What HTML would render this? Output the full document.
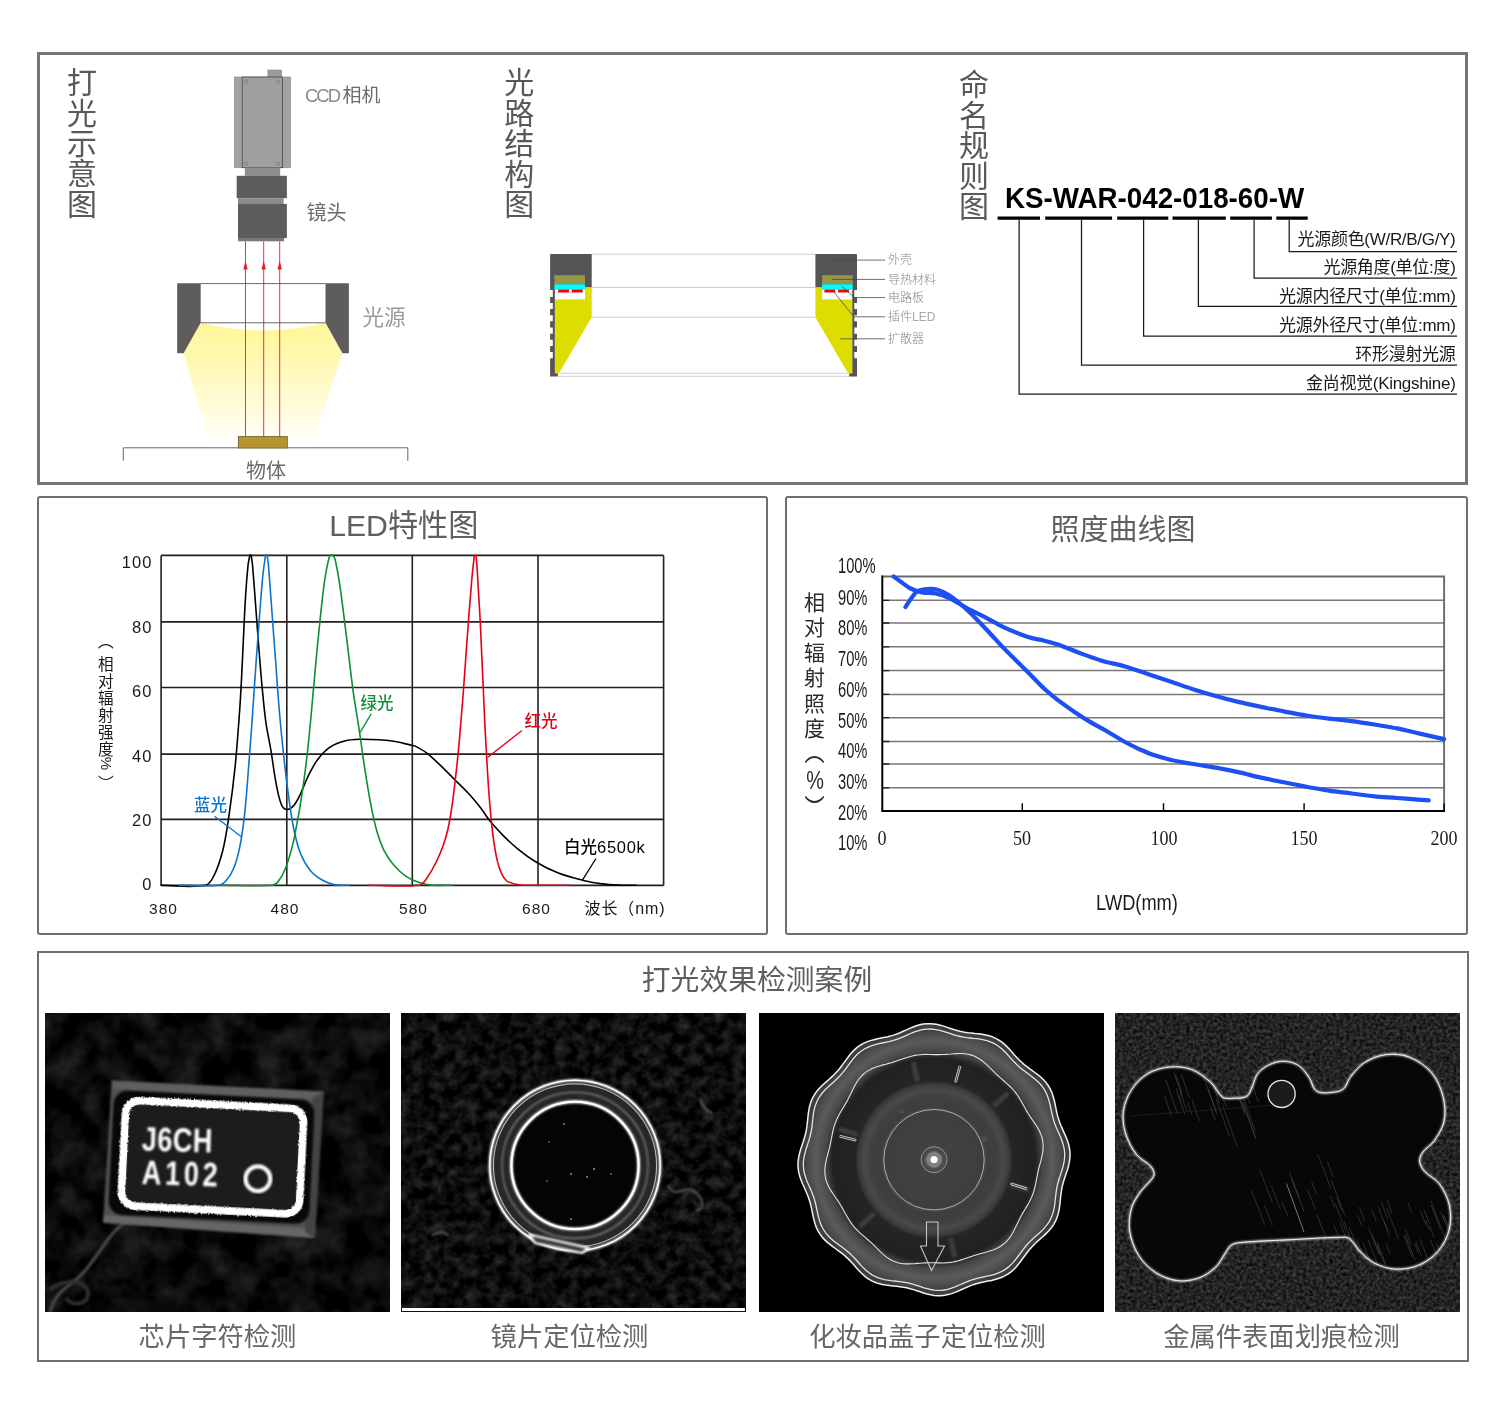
<!DOCTYPE html>
<html lang="zh-CN">
<head>
<meta charset="utf-8">
<title>KS-WAR 环形漫射光源</title>
<style>
*{margin:0;padding:0;box-sizing:border-box}
html,body{width:1500px;height:1420px;background:#fff;overflow:hidden}
body{position:relative;will-change:transform;font-family:"Liberation Sans","Noto Sans CJK SC",sans-serif;color:#595757}
.abs{position:absolute}
.box{position:absolute;border:2px solid #6f6f6f;border-radius:3px;background:#fff}
#boxTop{left:37px;top:52px;width:1431px;height:433px;border:3px solid #757575;border-radius:0}
#boxLed{left:37px;top:496px;width:731px;height:439px}
#boxLux{left:785px;top:496px;width:683px;height:439px}
#boxCase{left:37px;top:951px;width:1432px;height:411px;border-radius:0}
.vtitle{position:absolute;width:32px;font-size:30px;line-height:30.4px;text-align:center;color:#5b5857;white-space:pre-line}
.lbl{position:absolute;white-space:nowrap;line-height:1}
.ctitle{position:absolute;white-space:nowrap;line-height:1;color:#625e5d}
.cap{position:absolute;top:1322.3px;font-size:26.3px;line-height:30px;white-space:nowrap;color:#6a6766;text-align:center}
.nr{right:44.5px;font-size:17px;color:#1a1a1a;letter-spacing:-0.3px}
.ya{right:1348.6px;font-size:16.5px;color:#1a1a1a;letter-spacing:1.1px;margin-right:-1.1px}
.xa{top:901px;width:60px;text-align:center;font-size:15.5px;color:#1a1a1a;letter-spacing:1px}
.cl{font-size:16.5px;font-weight:500}
.pc{left:838px;font-size:22px;color:#1a1a1a;transform:scaleX(0.668);transform-origin:0 50%}
.xs{top:826.5px;width:60px;text-align:center;font-family:"Liberation Serif","Noto Serif CJK SC",serif;font-size:22px;color:#1a1a1a;transform:scaleX(0.82)}
svg{position:absolute;left:0;top:0;overflow:visible}
svg text{font-family:"Liberation Sans","Noto Sans CJK SC",sans-serif}
</style>
</head>
<body>
<div class="box" id="boxTop"></div>
<div class="box" id="boxLed"></div>
<div class="box" id="boxLux"></div>
<div class="box" id="boxCase"></div>

<!-- ===== vertical section titles ===== -->
<div class="vtitle" style="left:66px;top:68.1px">打
光
示
意
图</div>
<div class="vtitle" style="left:503.3px;top:68.3px">光
路
结
构
图</div>
<div class="vtitle" style="left:958px;top:70.3px;line-height:30.4px">命
名
规
则
图</div>

<!-- ===== chart / section titles ===== -->
<div class="ctitle" style="left:329.2px;top:511.3px;font-size:30.2px">LED特性图</div>
<div class="ctitle" style="left:1050.4px;top:515.6px;font-size:29px">照度曲线图</div>
<div class="ctitle" style="left:641.8px;top:966.2px;font-size:28.8px">打光效果检测案例</div>

<!-- ===== captions ===== -->
<div class="cap" style="left:45px;width:345px">芯片字符检测</div>
<div class="cap" style="left:397px;width:345px">镜片定位检测</div>
<div class="cap" style="left:755px;width:345px">化妆品盖子定位检测</div>
<div class="cap" style="left:1109px;width:345px">金属件表面划痕检测</div>

<!-- ===== 打光示意图 diagram ===== -->
<svg width="1500" height="1420" viewBox="0 0 1500 1420">
  <defs>
    <linearGradient id="gLight" x1="0" y1="322" x2="0" y2="447" gradientUnits="userSpaceOnUse">
      <stop offset="0" stop-color="#fff697"/>
      <stop offset="0.25" stop-color="#fff8ad"/>
      <stop offset="0.6" stop-color="#fffbd2"/>
      <stop offset="1" stop-color="#ffffff"/>
    </linearGradient>
  </defs>
  <!-- light cone -->
  <path d="M200.7 322.8 Q263 338 325.5 322.8 L342.5 353.3 L311 447.5 L211 447.5 L183.6 353.3 Z" fill="url(#gLight)"/>
  <!-- camera -->
  <rect x="267.9" y="70" width="13.8" height="8" fill="#9c9c9c" stroke="#8a8888" stroke-width="0.6"/>
  <rect x="234.5" y="77" width="56" height="90.7" fill="#a3a3a3" stroke="#8e8c8c" stroke-width="0.7"/>
  <rect x="242.2" y="77" width="40.4" height="90.7" fill="#9f9f9f" stroke="#4e4646" stroke-width="0.8"/>
  <g fill="#c9c9c9" stroke="#4e4646" stroke-width="0.6">
    <circle cx="246.1" cy="81.4" r="1.3"/><circle cx="278.2" cy="81.4" r="1.3"/>
    <circle cx="246.1" cy="163.7" r="1.3"/><circle cx="278.2" cy="163.7" r="1.3"/>
  </g>
  <rect x="244.8" y="167.7" width="35.4" height="8.2" fill="#8f8f8f"/>
  <!-- lens -->
  <rect x="236.7" y="175.8" width="50.2" height="22.4" fill="#5e5c5d"/>
  <rect x="238" y="198.2" width="45.6" height="5.8" fill="#8b8b8b"/>
  <rect x="238" y="203.9" width="48.9" height="34.2" fill="#5e5c5d"/>
  <rect x="238" y="238" width="46" height="3.3" fill="#7b7979"/>
  <!-- light source housing -->
  <path d="M177.2 283.3 H200.7 V322.8 L183.6 353.3 H177.2 Z" fill="#5e5c5d"/>
  <path d="M325.5 283.3 H348.9 V353.3 H342.5 L325.5 322.8 Z" fill="#5e5c5d"/>
  <path d="M200.7 283.6 H325.5 M200.7 322.8 H325.5" stroke="#5a5555" stroke-width="0.9" fill="none"/>
  <!-- rays -->
  <g stroke="#ee1c25" stroke-width="0.9" fill="none">
    <path d="M245.5 241.3 V436.5 M263.7 241.3 V436.5 M279.7 241.3 V436.5"/>
  </g>
  <g fill="#ee1c25">
    <path d="M245.5 260.5 l2.2 9 h-4.4z M263.7 260.5 l2.2 9 h-4.4z M279.7 260.5 l2.2 9 h-4.4z"/>
  </g>
  <!-- object -->
  <rect x="238.3" y="436.5" width="49" height="11.6" fill="#b8942f" stroke="#5a4a2a" stroke-width="0.7"/>
  <path d="M123.3 460.8 V447.8 H238 M287.5 447.8 H407.8 V460.8" stroke="#5a5555" stroke-width="0.9" fill="none"/>
</svg>
<div class="lbl" style="left:305px;top:86px;font-size:19px;color:#6c6968"><span style="font-family:'Liberation Sans','Noto Sans CJK SC',sans-serif;color:#8d8a8a;letter-spacing:-2px;margin-right:3.5px;font-size:18.5px">CCD</span>相机</div>
<div class="lbl" style="left:306.5px;top:202.5px;font-size:20px;color:#6c6968">镜头</div>
<div class="lbl" style="left:362.5px;top:308px;font-size:21.5px;color:#9b9999">光源</div>
<div class="lbl" style="left:246px;top:461px;font-size:20px;color:#6c6968">物体</div>

<!-- ===== 光路结构图 diagram ===== -->
<svg width="1500" height="1420" viewBox="0 0 1500 1420">
  <defs>
    <g id="ringHalf">
      <!-- housing -->
      <path d="M551.1 253.9 H591.7 V287.5 H585 V299.7 H554.9 V373.3 H557.9 V376.5 H550.1 V358.2 H552.8 V352 H550.1 V346.1 H552.8 V339.7 H550.1 V333.7 H552.8 V327.5 H550.1 V321.3 H552.8 V315.2 H550.1 V309.1 H552.8 V302.9 H550.1 V297.1 H552.8 V290.1 H550.1 V254.9 Q550.1 253.9 551.1 253.9 Z" fill="#555555"/>
      <!-- diffuser -->
      <path d="M554.9 299.7 H585 V287.5 H591.7 V317.3 L559 373.3 H554.9 Z" fill="#dddd00"/>
      <rect x="554.4" y="275.2" width="30.6" height="9.2" fill="#96964b"/>
      <rect x="554.4" y="284.3" width="30.6" height="5.4" fill="#00ffff"/>
      <rect x="554.9" y="289.6" width="30.1" height="10.1" fill="#ffffff"/>
      <rect x="558.1" y="289.6" width="10.9" height="2.9" fill="#ff0000"/>
      <rect x="571.8" y="289.6" width="10.9" height="2.9" fill="#ff0000"/>
    </g>
  </defs>
  <path d="M591.7 254.2 H815.3 M591.7 287.5 H815.3 M591.7 317.3 H815.3 M559 373.3 H848.5 M557.9 376.3 H849.6" stroke="#c9c9c9" stroke-width="0.9" fill="none"/>
  <use href="#ringHalf"/>
  <use href="#ringHalf" transform="translate(1407.1 0) scale(-1 1)"/>
  <g stroke="#4f4848" stroke-width="0.8" fill="none">
    <path d="M832.2 260.1 H885"/>
    <path d="M832.2 279.4 H885"/>
    <path d="M841.7 286.2 L854.4 297.6 H885"/>
    <path d="M832.7 290.5 L853.9 316.8 H885"/>
    <path d="M840.1 338.8 H885"/>
  </g>
</svg>
<div class="lbl" style="left:888px;top:254px;font-size:12px;color:#8a8787;font-weight:300">外壳</div>
<div class="lbl" style="left:888px;top:273.5px;font-size:12px;color:#8a8787;font-weight:300">导热材料</div>
<div class="lbl" style="left:888px;top:291.5px;font-size:12px;color:#8a8787;font-weight:300">电路板</div>
<div class="lbl" style="left:888px;top:310.5px;font-size:12px;color:#8a8787;font-weight:300">插件<span style="color:#aaa7a7">LED</span></div>
<div class="lbl" style="left:888px;top:332.5px;font-size:12px;color:#8a8787;font-weight:300">扩散器</div>

<!-- ===== 命名规则图 ===== -->
<svg width="1500" height="1420" viewBox="0 0 1500 1420">
  <g stroke="#000" stroke-width="3.2" fill="none">
    <path d="M997.6 218.2 H1040 M1045.2 218.2 H1112.1 M1117.2 218.2 H1168.3 M1172.5 218.2 H1225.8 M1230.2 218.2 H1271.9 M1276.3 218.2 H1307.7"/>
  </g>
  <g stroke="#1a1a1a" stroke-width="1.25" fill="none">
    <path d="M1289.2 219.5 V251.5 H1457"/>
    <path d="M1254.1 219.5 V278 H1457"/>
    <path d="M1198.4 219.5 V306.4 H1457"/>
    <path d="M1143.6 219.5 V336.1 H1457"/>
    <path d="M1081.5 219.5 V365.1 H1457"/>
    <path d="M1019.1 219.5 V394.1 H1457"/>
  </g>
</svg>
<div class="lbl" id="model" style="left:1005px;top:182.5px;font-size:30px;font-weight:700;color:#000;transform:scaleX(0.925);transform-origin:0 0">KS-WAR-042-018-60-W</div>
<div class="lbl nr" style="top:230.5px">光源颜色(W/R/B/G/Y)</div>
<div class="lbl nr" style="top:259px">光源角度(单位:度)</div>
<div class="lbl nr" style="top:288px">光源内径尺寸(单位:mm)</div>
<div class="lbl nr" style="top:317px">光源外径尺寸(单位:mm)</div>
<div class="lbl nr" style="top:346px">环形漫射光源</div>
<div class="lbl nr" style="top:374.5px">金尚视觉(Kingshine)</div>

<!-- ===== LED特性图 chart ===== -->
<svg width="1500" height="1420" viewBox="0 0 1500 1420">
<path d="M161.1 555.4 V885.4 M286.8 555.4 V885.4 M412.3 555.4 V885.4 M538.0 555.4 V885.4 M663.6 555.4 V885.4 M161.1 555.4 H663.6 M161.1 621.9 H663.6 M161.1 687.5 H663.6 M161.1 754.1 H663.6 M161.1 819.4 H663.6 M161.1 885.4 H663.6" stroke="#231f20" stroke-width="1.6" fill="none"/>
<path d="M160.4 885.3 C175.4 885.3 190.7 888.0 205.5 885.3 C209.8 884.5 212.2 879.3 214.1 875.4 C218.0 867.6 220.6 859.2 222.7 850.8 C225.6 839.4 227.2 827.8 228.9 816.2 C231.3 799.8 233.4 783.4 235.1 766.9 C237.1 746.4 238.6 725.8 240.0 705.3 C241.4 684.7 242.2 664.2 243.2 643.6 C244.0 627.2 244.6 610.7 245.7 594.3 C246.3 584.4 247.1 574.6 248.1 564.7 C248.4 562.1 249.0 559.4 249.6 556.8 C249.8 556.1 249.9 554.5 250.6 554.9 C251.5 555.3 251.4 556.8 251.6 557.8 C252.1 560.5 252.3 563.2 252.6 566.0 C253.4 575.4 254.1 584.9 254.8 594.3 C256.0 610.8 257.2 627.2 258.5 643.6 C259.7 658.4 260.8 673.2 262.2 688.0 C263.3 699.5 264.3 711.1 265.9 722.5 C267.2 731.6 269.3 740.6 270.8 749.7 C272.6 760.3 273.8 771.1 275.8 781.7 C277.1 788.8 278.3 795.9 280.7 802.7 C281.6 805.3 283.0 808.5 285.6 809.3 C288.2 810.1 291.2 808.3 293.0 806.4 C296.3 802.9 298.3 798.3 300.4 794.0 C303.2 788.4 305.0 782.4 307.8 776.8 C310.8 770.9 313.7 764.8 317.7 759.5 C321.2 754.9 325.2 750.5 330.0 747.2 C334.4 744.2 339.6 742.4 344.8 741.0 C349.6 739.7 354.6 739.5 359.6 739.3 C366.2 739.1 372.7 739.4 379.3 739.8 C385.1 740.2 390.9 740.8 396.6 741.8 C401.6 742.6 406.4 744.1 411.4 745.2 C412.5 745.5 413.8 745.4 414.8 745.9 C419.1 748.1 423.3 750.4 427.1 753.3 C431.5 756.6 435.4 760.6 439.4 764.4 C444.5 769.2 449.3 774.2 454.2 779.2 C459.2 784.1 464.3 788.8 469.0 794.0 C473.4 798.7 477.4 803.7 481.3 808.7 C484.4 812.7 486.8 817.2 490.0 821.1 C494.2 826.2 498.8 831.1 503.5 835.9 C508.3 840.6 513.1 845.2 518.3 849.4 C523.8 853.9 529.5 858.1 535.6 861.7 C542.7 866.0 550.1 869.8 557.8 872.8 C565.7 876.0 574.1 878.1 582.4 880.2 C588.9 881.8 595.5 883.1 602.1 883.9 C608.7 884.7 615.3 884.9 621.8 885.2 C626.8 885.3 631.7 885.2 636.6 885.2" stroke="#000" stroke-width="1.6" fill="none"/>
<path d="M178.4 885.3 C191.9 885.3 205.5 886.7 219.0 885.3 C222.0 885.0 224.5 882.6 226.4 880.3 C229.6 876.7 232.1 872.5 233.8 868.0 C236.6 860.9 238.5 853.4 240.0 845.8 C242.2 834.4 243.7 822.9 244.9 811.3 C246.5 796.5 247.5 781.7 248.6 766.9 C249.9 750.5 251.2 734.0 252.3 717.6 C253.6 699.5 254.7 681.4 256.0 663.4 C257.2 646.9 258.4 630.5 259.7 614.0 C260.7 600.9 261.6 587.7 262.9 574.6 C263.5 569.2 264.2 563.9 265.1 558.6 C265.4 557.3 265.1 554.9 266.4 554.9 C267.7 554.9 267.4 557.3 267.6 558.6 C268.2 562.2 268.6 565.9 268.8 569.7 C270.0 584.4 271.0 599.2 272.1 614.0 C273.3 630.5 274.5 646.9 275.8 663.4 C277.0 679.8 278.0 696.2 279.5 712.7 C280.9 729.1 282.6 745.6 284.4 762.0 C285.8 775.2 287.4 788.3 289.3 801.4 C290.7 811.3 292.1 821.2 294.2 831.0 C295.9 838.5 297.5 846.1 300.4 853.2 C302.9 859.4 306.1 865.3 310.3 870.5 C313.6 874.5 318.0 877.7 322.6 880.3 C326.4 882.5 330.6 884.0 334.9 884.8 C339.8 885.7 344.8 885.1 349.7 885.3" stroke="#0b74cf" stroke-width="1.6" fill="none"/>
<path d="M219.0 885.3 C236.7 885.3 254.4 886.4 272.1 885.3 C274.4 885.1 276.7 883.5 278.2 881.6 C281.4 877.5 283.8 872.8 285.6 868.0 C288.7 860.0 291.0 851.7 293.0 843.4 C295.5 832.8 297.3 822.0 299.2 811.3 C301.0 800.6 302.7 790.0 304.1 779.2 C306.0 765.3 307.6 751.3 309.0 737.3 C310.9 719.3 312.3 701.2 314.0 683.1 C315.6 665.8 317.1 648.5 318.9 631.3 C320.4 616.5 321.9 601.7 323.8 586.9 C324.9 578.7 326.0 570.3 328.0 562.3 C328.7 559.6 329.3 554.1 332.0 554.9 C335.4 555.9 335.4 561.2 336.2 564.7 C338.4 574.5 339.7 584.4 341.1 594.3 C343.4 610.7 345.2 627.2 347.3 643.6 C349.3 660.1 351.1 676.5 353.4 692.9 C355.3 706.1 357.6 719.2 359.6 732.4 C361.3 743.9 362.7 755.4 364.5 766.9 C366.4 779.3 368.3 791.6 370.7 803.9 C372.4 813.0 374.3 822.1 376.8 831.0 C378.8 837.8 381.1 844.5 384.2 850.8 C386.9 856.1 390.2 861.0 394.1 865.5 C397.7 869.7 401.8 873.6 406.4 876.6 C410.6 879.4 415.3 881.2 420.0 882.8 C423.9 884.1 428.0 884.9 432.0 885.2 C439.0 885.6 446.0 885.2 453.0 885.2" stroke="#0a9036" stroke-width="1.6" fill="none"/>
<path d="M367.5 885.2 C384.9 885.2 402.4 887.3 419.7 885.2 C423.2 884.7 425.1 880.6 427.1 877.8 C430.5 873.1 433.2 868.1 435.7 863.0 C438.5 857.4 441.0 851.6 443.1 845.7 C445.1 840.1 446.8 834.3 448.1 828.5 C449.8 820.3 451.1 812.1 452.3 803.8 C453.8 793.2 455.0 782.5 456.2 771.8 C457.5 760.3 458.6 748.8 459.6 737.3 C460.8 724.1 461.8 711.0 462.9 697.8 C464.0 683.0 465.0 668.2 466.1 653.5 C467.0 640.3 468.0 627.2 469.0 614.0 C470.0 601.7 470.9 589.4 472.0 577.0 C472.5 571.3 473.1 565.5 473.9 559.8 C474.2 558.3 473.6 555.4 475.2 555.4 C476.7 555.4 476.2 558.3 476.4 559.8 C477.1 565.5 477.3 571.3 477.6 577.0 C478.5 591.0 479.4 605.0 480.1 618.9 C481.0 637.0 481.8 655.1 482.6 673.2 C483.4 691.2 484.1 709.3 485.0 727.4 C485.8 742.2 486.6 757.0 487.5 771.8 C488.2 783.3 488.9 794.8 490.0 806.3 C491.0 817.8 492.0 829.3 493.7 840.8 C494.9 849.1 496.1 857.4 498.6 865.4 C500.2 870.7 502.0 876.4 506.0 880.2 C509.1 883.3 514.0 884.0 518.3 884.7 C524.8 885.7 531.5 885.1 538.0 885.2 C548.7 885.3 559.4 885.2 570.1 885.2" stroke="#e60012" stroke-width="1.6" fill="none"/>
<path d="M214.6 816.2 L242 837.2" stroke="#0b74cf" stroke-width="1.3"/>
<path d="M371.2 713.9 L360.1 732.4" stroke="#0a9036" stroke-width="1.3"/>
<path d="M522 730.4 L487.5 757.5" stroke="#e60012" stroke-width="1.3"/>
<path d="M596 858.5 L582.4 880.2" stroke="#000" stroke-width="1.3"/>
</svg>
<div class="lbl ya" style="top:554.2px">100</div>
<div class="lbl ya" style="top:618.8px">80</div>
<div class="lbl ya" style="top:683.3px">60</div>
<div class="lbl ya" style="top:747.6px">40</div>
<div class="lbl ya" style="top:812px">20</div>
<div class="lbl ya" style="top:876.4px">0</div>
<div class="lbl xa" style="left:133.5px">380</div>
<div class="lbl xa" style="left:255px">480</div>
<div class="lbl xa" style="left:383.5px">580</div>
<div class="lbl xa" style="left:506.5px">680</div>
<div class="lbl xa" style="left:583px;width:84px;letter-spacing:0.9px;font-size:16px">波长（nm)</div>
<div class="lbl" style="left:97.7px;top:655.7px;width:16px;font-size:15.6px;line-height:17.1px;color:#1a1a1a;white-space:pre-line;text-align:center">相
对
辐
射
强
度</div>
<div class="lbl" style="left:97.7px;top:756px;width:16px;font-size:15px;color:#1a1a1a;text-align:center;transform:rotate(90deg)">%</div>
<div class="lbl" style="left:97.7px;top:634.4px;width:16px;font-size:15.6px;color:#1a1a1a;text-align:center">︵</div>
<div class="lbl" style="left:97.7px;top:775.8px;width:16px;font-size:15.6px;color:#1a1a1a;text-align:center">︶</div>
<div class="lbl cl" style="left:194px;top:796.5px;color:#0b74cf">蓝光</div>
<div class="lbl cl" style="left:360.5px;top:695px;color:#0a9036">绿光</div>
<div class="lbl cl" style="left:524.5px;top:713px;color:#e60012">红光</div>
<div class="lbl cl" style="left:564px;top:839px;color:#000">白光<span style="letter-spacing:0.7px">6500k</span></div>

<!-- ===== 照度曲线图 chart ===== -->
<svg width="1500" height="1420" viewBox="0 0 1500 1420">
<path d="M882.3 600.3 H1444.1 M882.3 623.0 H1444.1 M882.3 646.8 H1444.1 M882.3 670.6 H1444.1 M882.3 694.4 H1444.1 M882.3 717.7 H1444.1 M882.3 741.5 H1444.1 M882.3 764.0 H1444.1 M882.3 787.8 H1444.1" stroke="#787878" stroke-width="1.5" fill="none"/>
<path d="M882.3 600.3 h7 M882.3 623.0 h7 M882.3 646.8 h7 M882.3 670.6 h7 M882.3 694.4 h7 M882.3 717.7 h7 M882.3 741.5 h7 M882.3 764.0 h7 M882.3 787.8 h7" stroke="#222" stroke-width="1.3" fill="none"/>
<path d="M882.3 576.5 H1444.1 V811.1" stroke="#6a6a6a" stroke-width="1.9" fill="none"/>
<path d="M882.3 575.6 V811.1 H1445.0" stroke="#000" stroke-width="2" fill="none"/>
<path d="M1022.3 803.2 V811 M1163.5 803.2 V811 M1304.1 803.2 V811 M1444.1 803.2 V811" stroke="#000" stroke-width="1.4" fill="none"/>
<path d="M893.6 576.5 C896.2 578.4 898.9 580.3 901.5 582.2 C904.5 584.3 907.3 586.9 910.6 588.5 C914.2 590.3 918.0 591.6 921.9 592.4 C926.4 593.3 931.1 592.6 935.5 593.5 C940.2 594.5 944.8 596.1 949.1 598.1 C955.4 601.0 961.1 605.0 967.3 608.3 C973.2 611.4 979.4 614.2 985.4 617.3 C991.5 620.5 997.3 624.1 1003.5 627.1 C1009.4 629.9 1015.5 632.4 1021.7 634.8 C1025.4 636.2 1029.2 637.4 1033.0 638.4 C1036.7 639.4 1040.6 639.8 1044.3 640.7 C1048.9 641.8 1053.5 643.0 1057.9 644.5 C1064.8 646.9 1071.5 649.9 1078.3 652.5 C1085.8 655.2 1093.3 658.1 1101.0 660.4 C1108.9 662.8 1117.1 664.2 1125.0 666.5 C1132.6 668.7 1140.1 671.5 1147.7 674.0 C1155.2 676.5 1162.8 679.0 1170.3 681.5 C1177.9 684.0 1185.4 686.8 1193.0 689.2 C1200.5 691.6 1208.1 693.9 1215.7 696.0 C1223.2 698.1 1230.7 700.1 1238.3 701.9 C1245.9 703.7 1253.4 705.3 1261.0 706.9 C1268.5 708.4 1276.1 710.0 1283.7 711.4 C1291.2 712.8 1298.8 714.3 1306.3 715.5 C1313.9 716.7 1321.4 717.7 1329.0 718.7 C1336.5 719.6 1344.1 720.2 1351.7 721.1 C1359.2 722.1 1366.8 723.3 1374.3 724.5 C1381.9 725.8 1389.5 726.9 1397.0 728.4 C1404.6 729.9 1412.1 731.9 1419.7 733.6 C1427.8 735.5 1436.0 737.2 1444.1 739.1" stroke="#1d4ff3" stroke-width="4.2" fill="none" stroke-linecap="round" stroke-linejoin="round"/>
<path d="M905.4 607.1 C907.1 604.5 908.7 601.7 910.6 599.2 C912.7 596.4 914.5 593.1 917.4 591.3 C920.0 589.6 923.4 589.3 926.5 589.0 C929.9 588.7 933.4 588.5 936.7 589.5 C941.1 590.7 945.3 592.9 949.1 595.3 C954.0 598.4 958.4 602.2 962.7 606.0 C967.5 610.1 971.9 614.5 976.3 618.9 C981.0 623.6 985.4 628.4 989.9 633.2 C994.5 638.1 998.9 643.1 1003.5 647.9 C1008.0 652.6 1012.6 657.0 1017.1 661.5 C1021.7 666.1 1026.2 670.6 1030.7 675.1 C1035.3 679.7 1039.6 684.4 1044.3 688.7 C1048.7 692.7 1053.3 696.5 1057.9 700.1 C1063.1 704.0 1068.4 707.7 1073.8 711.4 C1079.0 714.9 1084.3 718.4 1089.7 721.6 C1095.6 725.2 1101.8 728.3 1107.8 731.8 C1113.6 735.1 1119.2 738.8 1125.0 742.0 C1129.4 744.4 1134.0 746.7 1138.6 748.8 C1143.1 750.8 1147.6 752.9 1152.2 754.5 C1158.1 756.5 1164.2 758.2 1170.3 759.7 C1177.8 761.4 1185.4 762.7 1193.0 764.0 C1200.5 765.3 1208.1 766.3 1215.7 767.6 C1223.2 769.0 1230.8 770.5 1238.3 772.1 C1245.9 773.8 1253.4 775.9 1261.0 777.6 C1268.5 779.3 1276.1 780.8 1283.7 782.3 C1291.2 783.9 1298.8 785.3 1306.3 786.7 C1313.9 788.0 1321.4 789.6 1329.0 790.7 C1336.5 791.9 1344.1 792.5 1351.7 793.5 C1359.2 794.4 1366.8 795.6 1374.3 796.4 C1381.9 797.2 1389.4 797.4 1397.0 798.0 C1403.0 798.4 1409.1 798.9 1415.1 799.3 C1419.7 799.7 1424.2 799.9 1428.7 800.3" stroke="#1d4ff3" stroke-width="4.2" fill="none" stroke-linecap="round" stroke-linejoin="round"/>
</svg>
<div class="lbl pc" style="top:554.7px">100%</div>
<div class="lbl pc" style="top:586.5px">90%</div>
<div class="lbl pc" style="top:617.1px">80%</div>
<div class="lbl pc" style="top:647.7px">70%</div>
<div class="lbl pc" style="top:678.7px">60%</div>
<div class="lbl pc" style="top:709.5px">50%</div>
<div class="lbl pc" style="top:740.1px">40%</div>
<div class="lbl pc" style="top:770.7px">30%</div>
<div class="lbl pc" style="top:801.8px">20%</div>
<div class="lbl pc" style="top:832.4px">10%</div>
<div class="lbl xs" style="left:851.7px">0</div>
<div class="lbl xs" style="left:991.7px">50</div>
<div class="lbl xs" style="left:1133.5px">100</div>
<div class="lbl xs" style="left:1274.1px">150</div>
<div class="lbl xs" style="left:1414.1px">200</div>
<div class="lbl" style="left:1076.5px;top:892px;width:120px;text-align:center;font-size:22px;color:#1a1a1a;transform:scaleX(0.83)">LWD(mm)</div>
<div class="lbl" style="left:803.5px;top:589.5px;width:22px;font-size:21px;line-height:25.3px;color:#2b2b2b;white-space:pre-line;text-align:center">相
对
辐
射
照
度</div>
<div class="lbl" style="left:799.5px;top:741px;width:30px;font-size:20px;color:#2b2b2b;text-align:center;transform:scaleY(1.4)">︵</div>
<div class="lbl" style="left:799.5px;top:766.5px;width:30px;font-size:26.5px;color:#2b2b2b;text-align:center;transform:scaleX(0.75)">%</div>
<div class="lbl" style="left:799.5px;top:800px;width:30px;font-size:20px;color:#2b2b2b;text-align:center;transform:scaleY(1.4)">︶</div>
<!-- ===== case photos ===== -->
<svg width="1500" height="1420" viewBox="0 0 1500 1420" color-interpolation-filters="sRGB">
  <defs>
    <filter id="fMottle" x="0" y="0" width="100%" height="100%">
      <feTurbulence type="fractalNoise" baseFrequency="0.035" numOctaves="3" seed="7"/>
      <feColorMatrix type="matrix" values="0.3 0 0 0 -0.108  0.3 0 0 0 -0.108  0.3 0 0 0 -0.108  0 0 0 0 1"/>
    </filter>
    <filter id="fMottle2" x="0" y="0" width="100%" height="100%">
      <feTurbulence type="fractalNoise" baseFrequency="0.09" numOctaves="3" seed="11"/>
      <feColorMatrix type="matrix" values="0.32 0 0 0 -0.108  0.32 0 0 0 -0.108  0.32 0 0 0 -0.108  0 0 0 0 1"/>
    </filter>
    <filter id="fSpeck" x="0" y="0" width="100%" height="100%">
      <feTurbulence type="fractalNoise" baseFrequency="0.9" numOctaves="1" seed="3"/>
      <feColorMatrix type="matrix" values="0 0 0 0 1  0 0 0 0 1  0 0 0 0 1  3.2 0 0 0 -2.1"/>
    </filter>
    <filter id="fGrain" x="0" y="0" width="100%" height="100%">
      <feTurbulence type="fractalNoise" baseFrequency="0.3" numOctaves="3" seed="5"/>
      <feColorMatrix type="matrix" values="0.34 0 0 0 -0.03  0.34 0 0 0 -0.03  0.34 0 0 0 -0.03  0 0 0 0 1"/>
    </filter>
    <filter id="fRough" x="-5%" y="-5%" width="110%" height="110%">
      <feTurbulence type="fractalNoise" baseFrequency="0.7" numOctaves="2" seed="9" result="n"/>
      <feDisplacementMap in="SourceGraphic" in2="n" scale="3.2" xChannelSelector="R" yChannelSelector="G"/>
      <feGaussianBlur stdDeviation="0.55"/>
    </filter>
    <filter id="fBlur1"><feGaussianBlur stdDeviation="0.9"/></filter>
    <filter id="fBlur2"><feGaussianBlur stdDeviation="1.8"/></filter>
    <clipPath id="cp1"><rect x="45" y="1013" width="345" height="299"/></clipPath>
    <clipPath id="cp2"><rect x="401" y="1013" width="345" height="295"/></clipPath>
    <clipPath id="cp3"><rect x="759" y="1013" width="345" height="299"/></clipPath>
    <clipPath id="cp4"><rect x="1115" y="1013" width="345" height="299"/></clipPath>
  </defs>

  <!-- photo 1 : chip -->
  <g clip-path="url(#cp1)">
    <rect x="45" y="1013" width="345" height="299" fill="#060606"/>
    <rect x="45" y="1013" width="345" height="299" filter="url(#fMottle)"/>
    <path d="M127 1221 C108 1232 96 1262 78 1278 C62 1290 54 1296 50 1312" stroke="#4c4c4c" stroke-width="3" fill="none" filter="url(#fBlur1)"/>
    <path d="M50 1290 C62 1280 84 1278 88 1292 C90 1304 72 1308 66 1298" stroke="#2e2e2e" stroke-width="4" fill="none" filter="url(#fBlur1)"/>
    <g filter="url(#fBlur1)">
      <path d="M111.8 1080.4 L323.8 1091.6 L315 1238 L103 1222.8 Z" fill="#505050"/>
      <path d="M111.8 1080.4 L323.8 1091.6 L322.6 1100 L112 1089 Z" fill="#5f5f5f"/>
      <path d="M104 1215 L315.6 1229 L315 1238 L103 1222.8 Z" fill="#666"/>
      <path d="M313 1098 L323 1092 L315 1238 L305 1232 Z" fill="#444"/>
    </g>
    <g transform="rotate(2.9 212 1157.2)">
      <rect x="111" y="1095" width="201" height="124.5" rx="14" fill="#080808" filter="url(#fBlur1)"/>
      <rect x="124" y="1105" width="177" height="104.5" rx="11" fill="#1c1c1c"/>
      <rect x="124" y="1105" width="177" height="104.5" rx="11" filter="url(#fSpeck)" opacity="0.22"/>
      <rect x="123.3" y="1104.4" width="178.4" height="105.6" rx="14" fill="none" stroke="#fff" stroke-width="7.6" filter="url(#fRough)"/>
    </g>
    <g fill="#fff" font-weight="700" font-size="34" filter="url(#fBlur1)">
      <text transform="translate(141.5 1150.6) rotate(1.5) scale(0.8 1)" letter-spacing="0.5">J6CH</text>
      <text transform="translate(141.5 1184) rotate(1.8) scale(0.8 1)" letter-spacing="4.6">A102</text>
    </g>
    <circle cx="257.9" cy="1178.8" r="12.4" fill="none" stroke="#fff" stroke-width="4.2" filter="url(#fBlur1)"/>
  </g>

  <!-- photo 2 : lens -->
  <rect x="401.5" y="1013.5" width="344" height="298" fill="#fff" stroke="#111" stroke-width="1"/>
  <g clip-path="url(#cp2)">
    <rect x="401" y="1013" width="345" height="295" fill="#090909"/>
    <rect x="401" y="1013" width="345" height="295" filter="url(#fMottle2)"/>
    <rect x="401" y="1013" width="345" height="295" filter="url(#fSpeck)" opacity="0.10"/>
    <g stroke="#5a5a5a" stroke-width="2" fill="none" filter="url(#fBlur1)">
      <path d="M668 1185 C674 1200 684 1186 692 1190 C706 1198 704 1212 696 1210"/>
      <path d="M700 1098 C703 1108 708 1112 712 1113"/>
      <path d="M432 1236 C438 1230 446 1232 448 1236"/>
    </g>
    <circle cx="575" cy="1165.4" r="86" fill="#060606"/>
    <circle cx="575" cy="1165.4" r="74" fill="none" stroke="#272727" stroke-width="20"/>
    <circle cx="575" cy="1165.4" r="63.5" fill="#040404"/>
    <circle cx="575" cy="1165.4" r="60" filter="url(#fSpeck)" opacity="0.12"/>
    <circle cx="575" cy="1165.4" r="73" fill="none" stroke="#8c8c8c" stroke-width="1.2" filter="url(#fBlur1)"/>
    <circle cx="575" cy="1165.4" r="81.6" fill="none" stroke="#b4b4b4" stroke-width="1.2"/>
    <circle cx="575" cy="1165.4" r="85.2" fill="none" stroke="#efefef" stroke-width="2.6" filter="url(#fBlur1)"/>
    <circle cx="575" cy="1165.4" r="85.2" fill="none" stroke="#fff" stroke-width="1.4"/>
    <circle cx="575" cy="1165.4" r="63.6" fill="none" stroke="#fff" stroke-width="3" filter="url(#fBlur1)"/>
    <circle cx="575" cy="1165.4" r="63.6" fill="none" stroke="#fff" stroke-width="2"/>
    <path d="M529 1234.5 L588.7 1247.9 L582 1253 L535 1243 Z" fill="#3a3a3a" stroke="#fff" stroke-width="2.2" stroke-linejoin="round" filter="url(#fBlur1)"/>
    <g fill="#9a9a9a"><circle cx="564" cy="1124" r="0.9"/><circle cx="594" cy="1169" r="1"/><circle cx="571" cy="1174" r="0.9"/><circle cx="587" cy="1177" r="0.9"/><circle cx="549" cy="1142" r="0.8"/><circle cx="547" cy="1181" r="0.8"/><circle cx="571" cy="1219" r="0.9"/><circle cx="611" cy="1174" r="0.8"/></g>
  </g>
<!--PH34S-->
  <!-- photo 3 : cosmetic cap -->
  <defs><radialGradient id="gCap" cx="934.0" cy="1159.7" r="136" gradientUnits="userSpaceOnUse">
    <stop offset="0.000" stop-color="#434343"/>
    <stop offset="0.360" stop-color="#3e3e3e"/>
    <stop offset="0.375" stop-color="#4a4a4a"/>
    <stop offset="0.390" stop-color="#3d3d3d"/>
    <stop offset="0.470" stop-color="#404040"/>
    <stop offset="0.510" stop-color="#4a4a4a"/>
    <stop offset="0.555" stop-color="#3b3b3b"/>
    <stop offset="0.580" stop-color="#252525"/>
    <stop offset="0.745" stop-color="#212121"/>
    <stop offset="0.775" stop-color="#343434"/>
    <stop offset="0.800" stop-color="#474747"/>
    <stop offset="0.870" stop-color="#5b5b5b"/>
    <stop offset="0.930" stop-color="#4a4a4a"/>
    <stop offset="0.965" stop-color="#3b3b3b"/>
    <stop offset="1.000" stop-color="#454545"/>
  </radialGradient></defs>
  <g clip-path="url(#cp3)">
    <rect x="759" y="1013" width="345" height="299" fill="#000"/>
    <path d="M1069.6 1159.7 L1069.0 1163.2 L1068.2 1166.7 L1067.2 1170.2 L1066.0 1173.6 L1064.9 1176.9 L1063.8 1180.3 L1062.9 1183.6 L1062.0 1186.9 L1061.4 1190.3 L1060.9 1193.7 L1060.5 1197.2 L1060.1 1200.7 L1059.8 1204.2 L1059.3 1207.8 L1058.7 1211.4 L1057.8 1214.8 L1056.7 1218.2 L1055.3 1221.5 L1053.5 1224.6 L1051.5 1227.5 L1049.2 1230.3 L1046.7 1232.9 L1044.1 1235.4 L1041.4 1237.7 L1038.7 1240.1 L1036.1 1242.4 L1033.7 1244.8 L1031.3 1247.3 L1029.0 1249.9 L1026.9 1252.6 L1024.8 1255.4 L1022.7 1258.3 L1020.7 1261.2 L1018.5 1264.0 L1016.2 1266.8 L1013.7 1269.4 L1011.0 1271.7 L1008.1 1273.8 L1005.1 1275.7 L1001.8 1277.2 L998.5 1278.4 L995.0 1279.4 L991.5 1280.3 L988.0 1281.0 L984.5 1281.7 L981.1 1282.4 L977.7 1283.2 L974.5 1284.2 L971.2 1285.3 L968.0 1286.6 L964.8 1288.0 L961.6 1289.4 L958.3 1290.9 L955.0 1292.3 L951.6 1293.5 L948.2 1294.5 L944.7 1295.2 L941.1 1295.6 L937.6 1295.6 L934.0 1295.3 L930.5 1294.7 L927.0 1293.9 L923.5 1292.9 L920.1 1291.7 L916.8 1290.6 L913.4 1289.5 L910.1 1288.6 L906.8 1287.7 L903.4 1287.1 L900.0 1286.6 L896.5 1286.2 L893.0 1285.8 L889.5 1285.5 L885.9 1285.0 L882.3 1284.4 L878.9 1283.5 L875.5 1282.4 L872.2 1281.0 L869.1 1279.2 L866.2 1277.2 L863.4 1274.9 L860.8 1272.4 L858.3 1269.8 L856.0 1267.1 L853.6 1264.4 L851.3 1261.8 L848.9 1259.4 L846.4 1257.0 L843.8 1254.7 L841.1 1252.6 L838.3 1250.5 L835.4 1248.4 L832.5 1246.4 L829.7 1244.2 L826.9 1241.9 L824.3 1239.4 L822.0 1236.7 L819.9 1233.8 L818.0 1230.8 L816.5 1227.5 L815.3 1224.2 L814.3 1220.7 L813.4 1217.2 L812.7 1213.7 L812.0 1210.2 L811.3 1206.8 L810.5 1203.4 L809.5 1200.2 L808.4 1196.9 L807.1 1193.7 L805.7 1190.5 L804.3 1187.3 L802.8 1184.0 L801.4 1180.7 L800.2 1177.3 L799.2 1173.9 L798.5 1170.4 L798.1 1166.8 L798.1 1163.3 L798.4 1159.7 L799.0 1156.2 L799.8 1152.7 L800.8 1149.2 L802.0 1145.8 L803.1 1142.5 L804.2 1139.1 L805.1 1135.8 L806.0 1132.5 L806.6 1129.1 L807.1 1125.7 L807.5 1122.2 L807.9 1118.7 L808.2 1115.2 L808.7 1111.6 L809.3 1108.0 L810.2 1104.6 L811.3 1101.2 L812.7 1097.9 L814.5 1094.8 L816.5 1091.9 L818.8 1089.1 L821.3 1086.5 L823.9 1084.0 L826.6 1081.7 L829.3 1079.3 L831.9 1077.0 L834.3 1074.6 L836.7 1072.1 L839.0 1069.5 L841.1 1066.8 L843.2 1064.0 L845.3 1061.1 L847.3 1058.2 L849.5 1055.4 L851.8 1052.6 L854.3 1050.0 L857.0 1047.7 L859.9 1045.6 L862.9 1043.7 L866.2 1042.2 L869.5 1041.0 L873.0 1040.0 L876.5 1039.1 L880.0 1038.4 L883.5 1037.7 L886.9 1037.0 L890.3 1036.2 L893.5 1035.2 L896.8 1034.1 L900.0 1032.8 L903.2 1031.4 L906.4 1030.0 L909.7 1028.5 L913.0 1027.1 L916.4 1025.9 L919.8 1024.9 L923.3 1024.2 L926.9 1023.8 L930.4 1023.8 L934.0 1024.1 L937.5 1024.7 L941.0 1025.5 L944.5 1026.5 L947.9 1027.7 L951.2 1028.8 L954.6 1029.9 L957.9 1030.8 L961.2 1031.7 L964.6 1032.3 L968.0 1032.8 L971.5 1033.2 L975.0 1033.6 L978.5 1033.9 L982.1 1034.4 L985.7 1035.0 L989.1 1035.9 L992.5 1037.0 L995.8 1038.4 L998.9 1040.2 L1001.8 1042.2 L1004.6 1044.5 L1007.2 1047.0 L1009.7 1049.6 L1012.0 1052.3 L1014.4 1055.0 L1016.7 1057.6 L1019.1 1060.0 L1021.6 1062.4 L1024.2 1064.7 L1026.9 1066.8 L1029.7 1068.9 L1032.6 1071.0 L1035.5 1073.0 L1038.3 1075.2 L1041.1 1077.5 L1043.7 1080.0 L1046.0 1082.7 L1048.1 1085.6 L1050.0 1088.6 L1051.5 1091.9 L1052.7 1095.2 L1053.7 1098.7 L1054.6 1102.2 L1055.3 1105.7 L1056.0 1109.2 L1056.7 1112.6 L1057.5 1116.0 L1058.5 1119.2 L1059.6 1122.5 L1060.9 1125.7 L1062.3 1128.9 L1063.7 1132.1 L1065.2 1135.4 L1066.6 1138.7 L1067.8 1142.1 L1068.8 1145.5 L1069.5 1149.0 L1069.9 1152.6 L1069.9 1156.1 Z" fill="url(#gCap)"/>
    <path d="M1010.1 1184.4 L1029.1 1190.6 M950.6 1238.0 L954.8 1257.5 M874.5 1213.2 L859.7 1226.6 M857.9 1135.0 L838.9 1128.8 M917.4 1081.4 L913.2 1061.9 M993.5 1106.2 L1008.3 1092.8" stroke="#3d3d3d" stroke-width="5" fill="none" filter="url(#fBlur1)"/>
    <path d="M1069.7 1159.7 L1069.1 1163.2 L1068.3 1166.7 L1067.3 1170.2 L1066.1 1173.6 L1065.0 1176.9 L1063.9 1180.3 L1063.0 1183.6 L1062.1 1186.9 L1061.5 1190.3 L1061.0 1193.7 L1060.6 1197.2 L1060.2 1200.7 L1059.9 1204.3 L1059.4 1207.8 L1058.8 1211.4 L1057.9 1214.9 L1056.8 1218.3 L1055.4 1221.5 L1053.6 1224.6 L1051.6 1227.6 L1049.3 1230.3 L1046.8 1232.9 L1044.2 1235.4 L1041.5 1237.8 L1038.8 1240.1 L1036.2 1242.5 L1033.7 1244.9 L1031.4 1247.4 L1029.1 1249.9 L1027.0 1252.7 L1024.9 1255.5 L1022.8 1258.3 L1020.7 1261.2 L1018.5 1264.1 L1016.2 1266.9 L1013.7 1269.5 L1011.1 1271.8 L1008.2 1273.9 L1005.1 1275.7 L1001.9 1277.3 L998.5 1278.5 L995.0 1279.5 L991.5 1280.4 L988.0 1281.1 L984.6 1281.8 L981.1 1282.5 L977.8 1283.3 L974.5 1284.3 L971.2 1285.4 L968.0 1286.7 L964.8 1288.1 L961.6 1289.5 L958.3 1291.0 L955.0 1292.4 L951.6 1293.6 L948.2 1294.6 L944.7 1295.3 L941.1 1295.7 L937.6 1295.7 L934.0 1295.4 L930.5 1294.8 L927.0 1294.0 L923.5 1293.0 L920.1 1291.8 L916.8 1290.7 L913.4 1289.6 L910.1 1288.7 L906.8 1287.8 L903.4 1287.2 L900.0 1286.7 L896.5 1286.3 L893.0 1285.9 L889.4 1285.6 L885.9 1285.1 L882.3 1284.5 L878.8 1283.6 L875.4 1282.5 L872.2 1281.1 L869.1 1279.3 L866.1 1277.3 L863.4 1275.0 L860.8 1272.5 L858.3 1269.9 L855.9 1267.2 L853.6 1264.5 L851.2 1261.9 L848.8 1259.4 L846.3 1257.1 L843.8 1254.8 L841.0 1252.7 L838.2 1250.6 L835.4 1248.5 L832.5 1246.4 L829.6 1244.2 L826.8 1241.9 L824.2 1239.4 L821.9 1236.8 L819.8 1233.9 L818.0 1230.8 L816.4 1227.6 L815.2 1224.2 L814.2 1220.7 L813.3 1217.2 L812.6 1213.7 L811.9 1210.3 L811.2 1206.8 L810.4 1203.5 L809.4 1200.2 L808.3 1196.9 L807.0 1193.7 L805.6 1190.5 L804.2 1187.3 L802.7 1184.0 L801.3 1180.7 L800.1 1177.3 L799.1 1173.9 L798.4 1170.4 L798.0 1166.8 L798.0 1163.3 L798.3 1159.7 L798.9 1156.2 L799.7 1152.7 L800.7 1149.2 L801.9 1145.8 L803.0 1142.5 L804.1 1139.1 L805.0 1135.8 L805.9 1132.5 L806.5 1129.1 L807.0 1125.7 L807.4 1122.2 L807.8 1118.7 L808.1 1115.1 L808.6 1111.6 L809.2 1108.0 L810.1 1104.5 L811.2 1101.1 L812.6 1097.9 L814.4 1094.8 L816.4 1091.8 L818.7 1089.1 L821.2 1086.5 L823.8 1084.0 L826.5 1081.6 L829.2 1079.3 L831.8 1076.9 L834.3 1074.5 L836.6 1072.0 L838.9 1069.5 L841.0 1066.7 L843.1 1063.9 L845.2 1061.1 L847.3 1058.2 L849.5 1055.3 L851.8 1052.5 L854.3 1049.9 L856.9 1047.6 L859.8 1045.5 L862.9 1043.7 L866.1 1042.1 L869.5 1040.9 L873.0 1039.9 L876.5 1039.0 L880.0 1038.3 L883.4 1037.6 L886.9 1036.9 L890.2 1036.1 L893.5 1035.1 L896.8 1034.0 L900.0 1032.7 L903.2 1031.3 L906.4 1029.9 L909.7 1028.4 L913.0 1027.0 L916.4 1025.8 L919.8 1024.8 L923.3 1024.1 L926.9 1023.7 L930.4 1023.7 L934.0 1024.0 L937.5 1024.6 L941.0 1025.4 L944.5 1026.4 L947.9 1027.6 L951.2 1028.7 L954.6 1029.8 L957.9 1030.7 L961.2 1031.6 L964.6 1032.2 L968.0 1032.7 L971.5 1033.1 L975.0 1033.5 L978.6 1033.8 L982.1 1034.3 L985.7 1034.9 L989.2 1035.8 L992.6 1036.9 L995.8 1038.3 L998.9 1040.1 L1001.9 1042.1 L1004.6 1044.4 L1007.2 1046.9 L1009.7 1049.5 L1012.1 1052.2 L1014.4 1054.9 L1016.8 1057.5 L1019.2 1060.0 L1021.7 1062.3 L1024.2 1064.6 L1027.0 1066.7 L1029.8 1068.8 L1032.6 1070.9 L1035.5 1073.0 L1038.4 1075.2 L1041.2 1077.5 L1043.8 1080.0 L1046.1 1082.6 L1048.2 1085.5 L1050.0 1088.6 L1051.6 1091.8 L1052.8 1095.2 L1053.8 1098.7 L1054.7 1102.2 L1055.4 1105.7 L1056.1 1109.1 L1056.8 1112.6 L1057.6 1115.9 L1058.6 1119.2 L1059.7 1122.5 L1061.0 1125.7 L1062.4 1128.9 L1063.8 1132.1 L1065.3 1135.4 L1066.7 1138.7 L1067.9 1142.1 L1068.9 1145.5 L1069.6 1149.0 L1070.0 1152.6 L1070.0 1156.1 Z" fill="none" stroke="#f2f2f2" stroke-width="1.5"/>
    <path d="M1064.4 1159.7 L1063.8 1163.1 L1063.0 1166.5 L1062.1 1169.8 L1061.0 1173.1 L1060.0 1176.3 L1058.9 1179.5 L1058.0 1182.7 L1057.2 1185.9 L1056.6 1189.1 L1056.1 1192.4 L1055.7 1195.8 L1055.3 1199.1 L1055.0 1202.5 L1054.5 1206.0 L1053.9 1209.4 L1053.0 1212.7 L1051.9 1216.0 L1050.5 1219.1 L1048.9 1222.1 L1046.9 1224.9 L1044.7 1227.6 L1042.4 1230.1 L1039.9 1232.5 L1037.3 1234.8 L1034.8 1237.0 L1032.3 1239.3 L1029.9 1241.6 L1027.6 1244.0 L1025.5 1246.5 L1023.4 1249.1 L1021.4 1251.8 L1019.4 1254.5 L1017.3 1257.3 L1015.2 1260.0 L1013.0 1262.6 L1010.6 1265.1 L1008.0 1267.4 L1005.2 1269.4 L1002.3 1271.1 L999.2 1272.6 L996.0 1273.8 L992.7 1274.8 L989.3 1275.7 L985.9 1276.4 L982.6 1277.1 L979.3 1277.8 L976.1 1278.6 L972.9 1279.5 L969.8 1280.6 L966.7 1281.8 L963.6 1283.1 L960.5 1284.5 L957.4 1285.9 L954.2 1287.2 L950.9 1288.3 L947.6 1289.3 L944.3 1290.0 L940.8 1290.3 L937.4 1290.4 L934.0 1290.1 L930.6 1289.5 L927.2 1288.7 L923.9 1287.8 L920.6 1286.7 L917.4 1285.7 L914.2 1284.6 L911.0 1283.7 L907.8 1282.9 L904.6 1282.3 L901.3 1281.8 L897.9 1281.4 L894.6 1281.0 L891.2 1280.7 L887.7 1280.2 L884.3 1279.6 L881.0 1278.7 L877.7 1277.6 L874.6 1276.2 L871.6 1274.6 L868.8 1272.6 L866.1 1270.4 L863.6 1268.1 L861.2 1265.6 L858.9 1263.0 L856.7 1260.5 L854.4 1258.0 L852.1 1255.6 L849.7 1253.3 L847.2 1251.2 L844.6 1249.1 L841.9 1247.1 L839.2 1245.1 L836.4 1243.0 L833.7 1240.9 L831.1 1238.7 L828.6 1236.3 L826.3 1233.7 L824.3 1230.9 L822.6 1228.0 L821.1 1224.9 L819.9 1221.7 L818.9 1218.4 L818.0 1215.0 L817.3 1211.6 L816.6 1208.3 L815.9 1205.0 L815.1 1201.8 L814.2 1198.6 L813.1 1195.5 L811.9 1192.4 L810.6 1189.3 L809.2 1186.2 L807.8 1183.1 L806.5 1179.9 L805.4 1176.6 L804.4 1173.3 L803.7 1170.0 L803.4 1166.5 L803.3 1163.1 L803.6 1159.7 L804.2 1156.3 L805.0 1152.9 L805.9 1149.6 L807.0 1146.3 L808.0 1143.1 L809.1 1139.9 L810.0 1136.7 L810.8 1133.5 L811.4 1130.3 L811.9 1127.0 L812.3 1123.6 L812.7 1120.3 L813.0 1116.9 L813.5 1113.4 L814.1 1110.0 L815.0 1106.7 L816.1 1103.4 L817.5 1100.3 L819.1 1097.3 L821.1 1094.5 L823.3 1091.8 L825.6 1089.3 L828.1 1086.9 L830.7 1084.6 L833.2 1082.4 L835.7 1080.1 L838.1 1077.8 L840.4 1075.4 L842.5 1072.9 L844.6 1070.3 L846.6 1067.6 L848.6 1064.9 L850.7 1062.1 L852.8 1059.4 L855.0 1056.8 L857.4 1054.3 L860.0 1052.0 L862.8 1050.0 L865.7 1048.3 L868.8 1046.8 L872.0 1045.6 L875.3 1044.6 L878.7 1043.7 L882.1 1043.0 L885.4 1042.3 L888.7 1041.6 L891.9 1040.8 L895.1 1039.9 L898.2 1038.8 L901.3 1037.6 L904.4 1036.3 L907.5 1034.9 L910.6 1033.5 L913.8 1032.2 L917.1 1031.1 L920.4 1030.1 L923.7 1029.4 L927.2 1029.1 L930.6 1029.0 L934.0 1029.3 L937.4 1029.9 L940.8 1030.7 L944.1 1031.6 L947.4 1032.7 L950.6 1033.7 L953.8 1034.8 L957.0 1035.7 L960.2 1036.5 L963.4 1037.1 L966.7 1037.6 L970.1 1038.0 L973.4 1038.4 L976.8 1038.7 L980.3 1039.2 L983.7 1039.8 L987.0 1040.7 L990.3 1041.8 L993.4 1043.2 L996.4 1044.8 L999.2 1046.8 L1001.9 1049.0 L1004.4 1051.3 L1006.8 1053.8 L1009.1 1056.4 L1011.3 1058.9 L1013.6 1061.4 L1015.9 1063.8 L1018.3 1066.1 L1020.8 1068.2 L1023.4 1070.3 L1026.1 1072.3 L1028.8 1074.3 L1031.6 1076.4 L1034.3 1078.5 L1036.9 1080.7 L1039.4 1083.1 L1041.7 1085.7 L1043.7 1088.5 L1045.4 1091.4 L1046.9 1094.5 L1048.1 1097.7 L1049.1 1101.0 L1050.0 1104.4 L1050.7 1107.8 L1051.4 1111.1 L1052.1 1114.4 L1052.9 1117.6 L1053.8 1120.8 L1054.9 1123.9 L1056.1 1127.0 L1057.4 1130.1 L1058.8 1133.2 L1060.2 1136.3 L1061.5 1139.5 L1062.6 1142.8 L1063.6 1146.1 L1064.3 1149.4 L1064.6 1152.9 L1064.7 1156.3 Z" fill="none" stroke="#e4e4e4" stroke-width="1.3"/>
    <path d="M1041.4 1158.7 L1040.7 1161.5 L1039.9 1164.3 L1039.2 1167.0 L1038.5 1169.7 L1037.9 1172.4 L1037.4 1175.1 L1036.8 1177.8 L1036.3 1180.4 L1035.8 1183.1 L1035.2 1185.8 L1034.6 1188.5 L1033.9 1191.1 L1033.0 1193.8 L1032.0 1196.3 L1030.9 1198.8 L1029.7 1201.3 L1028.4 1203.7 L1027.0 1206.1 L1025.6 1208.4 L1024.2 1210.8 L1022.8 1213.1 L1021.4 1215.5 L1020.1 1217.9 L1018.9 1220.4 L1017.6 1222.9 L1016.4 1225.4 L1015.2 1228.0 L1013.9 1230.6 L1012.5 1233.2 L1011.0 1235.7 L1009.3 1238.1 L1007.5 1240.3 L1005.5 1242.4 L1003.3 1244.3 L1001.0 1246.0 L998.5 1247.5 L995.9 1248.8 L993.2 1249.9 L990.5 1250.8 L987.7 1251.7 L984.9 1252.5 L982.2 1253.2 L979.4 1254.0 L976.8 1254.7 L974.1 1255.5 L971.5 1256.4 L968.9 1257.3 L966.3 1258.2 L963.7 1259.1 L961.1 1259.9 L958.5 1260.7 L955.8 1261.4 L953.1 1262.0 L950.4 1262.4 L947.7 1262.7 L944.9 1262.9 L942.2 1263.0 L939.5 1262.9 L936.7 1262.9 L934.0 1262.8 L931.3 1262.8 L928.5 1262.8 L925.8 1262.9 L923.0 1263.0 L920.2 1263.2 L917.4 1263.4 L914.5 1263.7 L911.7 1263.8 L908.7 1263.9 L905.8 1263.9 L902.9 1263.6 L900.0 1263.2 L897.2 1262.5 L894.5 1261.6 L891.9 1260.4 L889.4 1259.0 L886.9 1257.4 L884.6 1255.6 L882.4 1253.7 L880.3 1251.7 L878.3 1249.7 L876.2 1247.7 L874.2 1245.7 L872.2 1243.7 L870.2 1241.9 L868.1 1240.0 L866.1 1238.2 L864.0 1236.4 L861.9 1234.6 L859.9 1232.8 L857.9 1230.9 L856.0 1229.0 L854.1 1226.9 L852.4 1224.8 L850.8 1222.6 L849.3 1220.3 L847.8 1217.9 L846.5 1215.6 L845.1 1213.2 L843.8 1210.8 L842.5 1208.4 L841.1 1206.0 L839.7 1203.7 L838.2 1201.4 L836.6 1199.0 L835.0 1196.7 L833.4 1194.3 L831.8 1191.9 L830.2 1189.4 L828.8 1186.9 L827.6 1184.2 L826.5 1181.5 L825.7 1178.8 L825.2 1175.9 L824.9 1173.1 L824.8 1170.2 L825.0 1167.3 L825.4 1164.4 L826.0 1161.5 L826.6 1158.7 L827.3 1155.9 L828.1 1153.1 L828.8 1150.4 L829.5 1147.7 L830.1 1145.0 L830.6 1142.3 L831.2 1139.6 L831.7 1137.0 L832.2 1134.3 L832.8 1131.6 L833.4 1128.9 L834.1 1126.3 L835.0 1123.6 L836.0 1121.1 L837.1 1118.6 L838.3 1116.1 L839.6 1113.7 L841.0 1111.3 L842.4 1109.0 L843.8 1106.6 L845.2 1104.3 L846.6 1101.9 L847.9 1099.5 L849.1 1097.0 L850.4 1094.5 L851.6 1092.0 L852.8 1089.4 L854.1 1086.8 L855.5 1084.2 L857.0 1081.7 L858.7 1079.3 L860.5 1077.1 L862.5 1075.0 L864.7 1073.1 L867.0 1071.4 L869.5 1069.9 L872.1 1068.6 L874.8 1067.5 L877.5 1066.6 L880.3 1065.7 L883.1 1064.9 L885.8 1064.2 L888.6 1063.4 L891.2 1062.7 L893.9 1061.9 L896.5 1061.0 L899.1 1060.1 L901.7 1059.2 L904.3 1058.3 L906.9 1057.5 L909.5 1056.7 L912.2 1056.0 L914.9 1055.4 L917.6 1055.0 L920.3 1054.7 L923.1 1054.5 L925.8 1054.4 L928.5 1054.5 L931.3 1054.5 L934.0 1054.6 L936.7 1054.6 L939.5 1054.6 L942.2 1054.5 L945.0 1054.4 L947.8 1054.2 L950.6 1054.0 L953.5 1053.7 L956.3 1053.6 L959.3 1053.5 L962.2 1053.5 L965.1 1053.8 L968.0 1054.2 L970.8 1054.9 L973.5 1055.8 L976.1 1057.0 L978.6 1058.4 L981.1 1060.0 L983.4 1061.8 L985.6 1063.7 L987.7 1065.7 L989.7 1067.7 L991.8 1069.7 L993.8 1071.7 L995.8 1073.7 L997.8 1075.5 L999.9 1077.4 L1001.9 1079.2 L1004.0 1081.0 L1006.1 1082.8 L1008.1 1084.6 L1010.1 1086.5 L1012.0 1088.4 L1013.9 1090.5 L1015.6 1092.6 L1017.2 1094.8 L1018.7 1097.1 L1020.2 1099.5 L1021.5 1101.8 L1022.9 1104.2 L1024.2 1106.6 L1025.5 1109.0 L1026.9 1111.4 L1028.3 1113.7 L1029.8 1116.0 L1031.4 1118.4 L1033.0 1120.7 L1034.6 1123.1 L1036.2 1125.5 L1037.8 1128.0 L1039.2 1130.5 L1040.4 1133.2 L1041.5 1135.9 L1042.3 1138.6 L1042.8 1141.5 L1043.1 1144.3 L1043.2 1147.2 L1043.0 1150.1 L1042.6 1153.0 L1042.0 1155.9 Z" fill="none" stroke="#e2e2e2" stroke-width="1.1"/>
    <circle cx="934.0" cy="1159.7" r="50.2" fill="none" stroke="#b5b5b5" stroke-width="0.9"/>
    <circle cx="934.0" cy="1159.7" r="13" fill="#4a4a4a" stroke="#9a9a9a" stroke-width="0.9"/>
    <circle cx="934.0" cy="1159.7" r="7" fill="#777" stroke="#cfcfcf" stroke-width="1" filter="url(#fBlur1)"/>
    <circle cx="934.0" cy="1159.7" r="3.6" fill="#fff"/>
    <path d="M1026.3 1189.6 L1011.0 1184.8 Q1009.9 1183.5 1011.6 1183.1 L1026.8 1187.8 M960.8 1066.5 L956.5 1081.9 Q955.2 1083.1 954.8 1081.4 L959.1 1066.0 M840.1 1135.4 L855.6 1139.2 Q856.9 1140.5 855.2 1141.0 L839.7 1137.1" stroke="#dedede" stroke-width="0.9" fill="none" stroke-linecap="round"/>
    <path d="M926.5 1222 H938 V1246 H944.5 L931.5 1270.5 L920.5 1246 H926.5 Z" fill="none" stroke="#c4c4c4" stroke-width="1.1"/>
    <g font-size="9" fill="#5f5f5f"><text x="898" y="1114">∞</text><text x="982" y="1142">9</text></g>
  </g>
  <!-- photo 4 : metal tag -->
  <defs><clipPath id="cpBone"><path d="M1222.8 1097.3 C1226.1 1099.5 1230.8 1098.4 1234.8 1098.2 C1238.8 1098.1 1243.3 1098.4 1246.8 1096.3 C1249.5 1094.8 1250.2 1091.2 1251.6 1088.4 C1254.2 1083.1 1254.7 1076.5 1258.8 1072.3 C1263.9 1067.1 1270.8 1063.2 1278.0 1061.8 C1284.3 1060.5 1291.4 1061.7 1297.2 1064.6 C1302.4 1067.3 1305.8 1072.8 1309.2 1077.6 C1311.6 1081.1 1311.9 1085.8 1314.5 1089.1 C1315.9 1091.0 1318.3 1092.5 1320.7 1092.7 C1326.5 1093.3 1332.3 1092.7 1338.0 1091.5 C1340.5 1091.0 1343.0 1089.6 1344.7 1087.7 C1347.2 1084.8 1347.6 1080.6 1350.0 1077.6 C1354.3 1072.2 1358.6 1066.4 1364.4 1062.7 C1370.9 1058.6 1378.4 1055.4 1386.0 1054.6 C1394.0 1053.6 1402.5 1054.4 1410.0 1057.4 C1418.2 1060.7 1425.9 1066.0 1431.6 1072.8 C1437.3 1079.6 1440.9 1088.2 1443.1 1096.8 C1445.1 1104.5 1445.6 1112.9 1444.1 1120.8 C1442.7 1128.0 1438.6 1134.4 1434.5 1140.5 C1431.3 1145.2 1425.7 1147.9 1422.5 1152.5 C1420.6 1155.1 1419.2 1158.4 1419.6 1161.6 C1420.1 1165.4 1422.4 1168.8 1424.9 1171.7 C1429.0 1176.3 1435.6 1178.6 1439.3 1183.7 C1444.0 1190.1 1447.6 1197.5 1449.4 1205.3 C1451.1 1212.9 1451.1 1221.2 1449.4 1228.8 C1447.5 1236.6 1443.9 1244.2 1438.8 1250.4 C1433.7 1256.6 1426.9 1261.6 1419.6 1264.8 C1412.1 1268.0 1403.7 1269.5 1395.6 1269.1 C1388.1 1268.8 1380.7 1266.3 1374.0 1262.9 C1368.4 1260.1 1364.0 1255.3 1359.6 1250.9 C1356.1 1247.4 1354.0 1242.7 1350.5 1239.4 C1349.1 1238.0 1347.1 1237.2 1345.2 1237.2 C1327.6 1237.3 1310.0 1238.7 1292.4 1239.6 C1274.4 1240.5 1256.3 1241.0 1238.4 1242.7 C1235.6 1243.0 1232.7 1243.8 1230.5 1245.6 C1228.1 1247.5 1227.0 1250.7 1225.2 1253.3 C1222.0 1257.9 1219.7 1263.3 1215.6 1267.2 C1210.7 1271.7 1205.1 1275.8 1198.8 1278.0 C1192.0 1280.4 1184.4 1281.6 1177.2 1280.6 C1169.6 1279.7 1162.1 1276.7 1155.6 1272.5 C1149.0 1268.2 1143.0 1262.4 1138.8 1255.7 C1134.2 1248.3 1131.0 1239.8 1129.7 1231.2 C1128.5 1223.4 1129.4 1215.2 1131.6 1207.7 C1133.4 1201.5 1137.5 1196.1 1141.2 1190.9 C1144.3 1186.5 1148.8 1183.2 1152.0 1178.9 C1153.1 1177.4 1154.3 1175.5 1154.2 1173.6 C1153.9 1171.0 1152.6 1168.3 1150.8 1166.4 C1146.6 1161.8 1140.2 1159.4 1136.4 1154.4 C1131.5 1148.0 1127.7 1140.5 1125.4 1132.8 C1123.3 1125.9 1122.4 1118.4 1123.4 1111.2 C1124.5 1103.6 1127.4 1096.0 1131.6 1089.6 C1135.9 1083.1 1141.7 1077.2 1148.4 1073.3 C1154.9 1069.5 1162.5 1067.7 1170.0 1067.0 C1177.2 1066.4 1184.8 1066.9 1191.6 1069.4 C1198.8 1072.2 1205.0 1077.3 1210.8 1082.4 C1215.6 1086.6 1217.5 1093.8 1222.8 1097.3 Z"/></clipPath></defs>
  <g clip-path="url(#cp4)">
    <rect x="1115" y="1013" width="345" height="299" fill="#262626"/>
    <rect x="1115" y="1013" width="345" height="299" filter="url(#fGrain)"/>
    <rect x="1115" y="1013" width="345" height="299" filter="url(#fSpeck)" opacity="0.07"/>
    <path d="M1222.8 1097.3 C1226.1 1099.5 1230.8 1098.4 1234.8 1098.2 C1238.8 1098.1 1243.3 1098.4 1246.8 1096.3 C1249.5 1094.8 1250.2 1091.2 1251.6 1088.4 C1254.2 1083.1 1254.7 1076.5 1258.8 1072.3 C1263.9 1067.1 1270.8 1063.2 1278.0 1061.8 C1284.3 1060.5 1291.4 1061.7 1297.2 1064.6 C1302.4 1067.3 1305.8 1072.8 1309.2 1077.6 C1311.6 1081.1 1311.9 1085.8 1314.5 1089.1 C1315.9 1091.0 1318.3 1092.5 1320.7 1092.7 C1326.5 1093.3 1332.3 1092.7 1338.0 1091.5 C1340.5 1091.0 1343.0 1089.6 1344.7 1087.7 C1347.2 1084.8 1347.6 1080.6 1350.0 1077.6 C1354.3 1072.2 1358.6 1066.4 1364.4 1062.7 C1370.9 1058.6 1378.4 1055.4 1386.0 1054.6 C1394.0 1053.6 1402.5 1054.4 1410.0 1057.4 C1418.2 1060.7 1425.9 1066.0 1431.6 1072.8 C1437.3 1079.6 1440.9 1088.2 1443.1 1096.8 C1445.1 1104.5 1445.6 1112.9 1444.1 1120.8 C1442.7 1128.0 1438.6 1134.4 1434.5 1140.5 C1431.3 1145.2 1425.7 1147.9 1422.5 1152.5 C1420.6 1155.1 1419.2 1158.4 1419.6 1161.6 C1420.1 1165.4 1422.4 1168.8 1424.9 1171.7 C1429.0 1176.3 1435.6 1178.6 1439.3 1183.7 C1444.0 1190.1 1447.6 1197.5 1449.4 1205.3 C1451.1 1212.9 1451.1 1221.2 1449.4 1228.8 C1447.5 1236.6 1443.9 1244.2 1438.8 1250.4 C1433.7 1256.6 1426.9 1261.6 1419.6 1264.8 C1412.1 1268.0 1403.7 1269.5 1395.6 1269.1 C1388.1 1268.8 1380.7 1266.3 1374.0 1262.9 C1368.4 1260.1 1364.0 1255.3 1359.6 1250.9 C1356.1 1247.4 1354.0 1242.7 1350.5 1239.4 C1349.1 1238.0 1347.1 1237.2 1345.2 1237.2 C1327.6 1237.3 1310.0 1238.7 1292.4 1239.6 C1274.4 1240.5 1256.3 1241.0 1238.4 1242.7 C1235.6 1243.0 1232.7 1243.8 1230.5 1245.6 C1228.1 1247.5 1227.0 1250.7 1225.2 1253.3 C1222.0 1257.9 1219.7 1263.3 1215.6 1267.2 C1210.7 1271.7 1205.1 1275.8 1198.8 1278.0 C1192.0 1280.4 1184.4 1281.6 1177.2 1280.6 C1169.6 1279.7 1162.1 1276.7 1155.6 1272.5 C1149.0 1268.2 1143.0 1262.4 1138.8 1255.7 C1134.2 1248.3 1131.0 1239.8 1129.7 1231.2 C1128.5 1223.4 1129.4 1215.2 1131.6 1207.7 C1133.4 1201.5 1137.5 1196.1 1141.2 1190.9 C1144.3 1186.5 1148.8 1183.2 1152.0 1178.9 C1153.1 1177.4 1154.3 1175.5 1154.2 1173.6 C1153.9 1171.0 1152.6 1168.3 1150.8 1166.4 C1146.6 1161.8 1140.2 1159.4 1136.4 1154.4 C1131.5 1148.0 1127.7 1140.5 1125.4 1132.8 C1123.3 1125.9 1122.4 1118.4 1123.4 1111.2 C1124.5 1103.6 1127.4 1096.0 1131.6 1089.6 C1135.9 1083.1 1141.7 1077.2 1148.4 1073.3 C1154.9 1069.5 1162.5 1067.7 1170.0 1067.0 C1177.2 1066.4 1184.8 1066.9 1191.6 1069.4 C1198.8 1072.2 1205.0 1077.3 1210.8 1082.4 C1215.6 1086.6 1217.5 1093.8 1222.8 1097.3 Z" fill="#070707"/>
    <g clip-path="url(#cpBone)" stroke="#777" stroke-width="0.6" fill="none" opacity="0.6">
      <path d="M1181.2 1074.1 l8.3 23.6 M1173.9 1072.7 l8.3 23.7 M1242.6 1102.0 l12.3 35.0 M1180.0 1091.5 l7.0 19.9 M1175.5 1074.2 l6.3 17.9 M1243.5 1103.2 l12.7 36.3 M1232.0 1077.7 l7.3 20.9 M1216.4 1099.3 l13.3 37.8 M1239.2 1073.5 l10.6 30.1 M1220.5 1090.2 l5.9 16.8 M1202.6 1073.6 l14.1 40.3 M1237.9 1091.9 l7.2 20.6 M1241.8 1092.9 l13.6 38.6 M1236.3 1090.3 l8.5 24.1 M1213.9 1087.2 l5.7 16.3 M1187.5 1102.5 l4.4 12.6 M1164.2 1095.1 l7.0 20.0 M1208.1 1088.8 l7.7 21.9 M1249.8 1077.8 l8.5 24.1 M1178.2 1095.3 l7.0 19.9 M1192.0 1099.9 l7.5 21.2 M1210.3 1106.2 l5.1 14.4 M1165.5 1079.2 l12.3 35.0 M1215.4 1079.5 l7.6 21.5 M1176.0 1088.4 l4.4 12.6 M1222.8 1105.8 l14.4 40.9 M1414.5 1243.0 l3.8 9.7 M1363.2 1243.3 l10.3 26.6 M1377.2 1242.2 l9.0 23.1 M1424.1 1209.7 l5.3 13.6 M1381.1 1201.8 l6.9 17.8 M1440.6 1211.6 l3.7 9.5 M1335.2 1203.5 l10.4 26.8 M1371.7 1209.5 l4.4 11.5 M1442.9 1216.2 l5.4 13.9 M1336.8 1197.8 l5.1 13.1 M1407.8 1202.5 l4.0 10.2 M1386.4 1207.5 l12.2 31.6 M1344.1 1221.5 l10.3 26.6 M1377.1 1244.4 l7.7 20.0 M1357.8 1215.5 l3.9 10.1 M1378.4 1207.4 l11.3 29.1 M1425.6 1219.9 l3.9 10.0 M1359.3 1207.1 l5.4 13.9 M1356.6 1238.5 l4.8 12.5 M1335.9 1241.4 l8.5 21.9 M1443.9 1215.1 l11.4 29.4 M1405.2 1234.5 l10.0 25.9 M1386.8 1199.6 l5.4 14.0 M1430.5 1240.0 l11.6 29.9 M1368.7 1227.8 l10.5 27.1 M1403.9 1235.7 l8.2 21.1 M1405.3 1229.3 l5.9 15.3 M1436.1 1242.8 l4.2 11.0 M1441.7 1243.1 l9.4 24.2 M1335.1 1239.9 l4.7 12.1 M1441.4 1228.4 l4.1 10.6 M1349.2 1226.8 l8.5 22.0 M1415.8 1241.4 l5.5 14.2 M1330.4 1241.1 l3.7 9.6 M1430.8 1200.8 l10.6 27.4 M1420.0 1238.9 l8.4 21.6 M1431.1 1205.1 l9.4 24.3 M1368.0 1239.6 l10.3 26.6 M1384.2 1221.3 l3.8 9.9 M1333.9 1224.7 l7.8 20.2 M1429.4 1225.4 l4.8 12.4 M1371.7 1233.4 l8.1 21.0 M1331.2 1236.9 l10.8 27.8 M1339.8 1222.2 l6.9 17.8 M1420.5 1210.6 l5.6 14.5 M1386.0 1243.3 l4.4 11.4 M1251.4 1190.4 l13.2 34.2 M1291.2 1178.2 l13.0 33.5 M1317.7 1154.3 l13.2 34.1 M1259.6 1169.6 l12.8 32.9 M1282.2 1201.9 l6.0 15.5 M1327.4 1161.5 l5.8 15.0 M1289.4 1172.0 l9.8 25.3 M1330.4 1196.2 l4.4 11.3 M1271.2 1185.4 l9.2 23.8 M1311.6 1181.5 l5.1 13.1 M1264.5 1205.1 l7.9 20.5 M1316.7 1214.1 l10.6 27.5 M1307.7 1189.6 l7.5 19.3 M1331.3 1180.4 l13.5 34.9"/>
      <path d="M1286.5 1183.5 L1304 1232" stroke="#d8d8d8" stroke-width="0.9"/>
      <path d="M1130 1116 L1290 1104" stroke="#3a3a3a" stroke-width="0.7"/>
    </g>
    <path d="M1222.8 1097.3 C1226.1 1099.5 1230.8 1098.4 1234.8 1098.2 C1238.8 1098.1 1243.3 1098.4 1246.8 1096.3 C1249.5 1094.8 1250.2 1091.2 1251.6 1088.4 C1254.2 1083.1 1254.7 1076.5 1258.8 1072.3 C1263.9 1067.1 1270.8 1063.2 1278.0 1061.8 C1284.3 1060.5 1291.4 1061.7 1297.2 1064.6 C1302.4 1067.3 1305.8 1072.8 1309.2 1077.6 C1311.6 1081.1 1311.9 1085.8 1314.5 1089.1 C1315.9 1091.0 1318.3 1092.5 1320.7 1092.7 C1326.5 1093.3 1332.3 1092.7 1338.0 1091.5 C1340.5 1091.0 1343.0 1089.6 1344.7 1087.7 C1347.2 1084.8 1347.6 1080.6 1350.0 1077.6 C1354.3 1072.2 1358.6 1066.4 1364.4 1062.7 C1370.9 1058.6 1378.4 1055.4 1386.0 1054.6 C1394.0 1053.6 1402.5 1054.4 1410.0 1057.4 C1418.2 1060.7 1425.9 1066.0 1431.6 1072.8 C1437.3 1079.6 1440.9 1088.2 1443.1 1096.8 C1445.1 1104.5 1445.6 1112.9 1444.1 1120.8 C1442.7 1128.0 1438.6 1134.4 1434.5 1140.5 C1431.3 1145.2 1425.7 1147.9 1422.5 1152.5 C1420.6 1155.1 1419.2 1158.4 1419.6 1161.6 C1420.1 1165.4 1422.4 1168.8 1424.9 1171.7 C1429.0 1176.3 1435.6 1178.6 1439.3 1183.7 C1444.0 1190.1 1447.6 1197.5 1449.4 1205.3 C1451.1 1212.9 1451.1 1221.2 1449.4 1228.8 C1447.5 1236.6 1443.9 1244.2 1438.8 1250.4 C1433.7 1256.6 1426.9 1261.6 1419.6 1264.8 C1412.1 1268.0 1403.7 1269.5 1395.6 1269.1 C1388.1 1268.8 1380.7 1266.3 1374.0 1262.9 C1368.4 1260.1 1364.0 1255.3 1359.6 1250.9 C1356.1 1247.4 1354.0 1242.7 1350.5 1239.4 C1349.1 1238.0 1347.1 1237.2 1345.2 1237.2 C1327.6 1237.3 1310.0 1238.7 1292.4 1239.6 C1274.4 1240.5 1256.3 1241.0 1238.4 1242.7 C1235.6 1243.0 1232.7 1243.8 1230.5 1245.6 C1228.1 1247.5 1227.0 1250.7 1225.2 1253.3 C1222.0 1257.9 1219.7 1263.3 1215.6 1267.2 C1210.7 1271.7 1205.1 1275.8 1198.8 1278.0 C1192.0 1280.4 1184.4 1281.6 1177.2 1280.6 C1169.6 1279.7 1162.1 1276.7 1155.6 1272.5 C1149.0 1268.2 1143.0 1262.4 1138.8 1255.7 C1134.2 1248.3 1131.0 1239.8 1129.7 1231.2 C1128.5 1223.4 1129.4 1215.2 1131.6 1207.7 C1133.4 1201.5 1137.5 1196.1 1141.2 1190.9 C1144.3 1186.5 1148.8 1183.2 1152.0 1178.9 C1153.1 1177.4 1154.3 1175.5 1154.2 1173.6 C1153.9 1171.0 1152.6 1168.3 1150.8 1166.4 C1146.6 1161.8 1140.2 1159.4 1136.4 1154.4 C1131.5 1148.0 1127.7 1140.5 1125.4 1132.8 C1123.3 1125.9 1122.4 1118.4 1123.4 1111.2 C1124.5 1103.6 1127.4 1096.0 1131.6 1089.6 C1135.9 1083.1 1141.7 1077.2 1148.4 1073.3 C1154.9 1069.5 1162.5 1067.7 1170.0 1067.0 C1177.2 1066.4 1184.8 1066.9 1191.6 1069.4 C1198.8 1072.2 1205.0 1077.3 1210.8 1082.4 C1215.6 1086.6 1217.5 1093.8 1222.8 1097.3 Z" fill="none" stroke="#f4f4f4" stroke-width="1.6" filter="url(#fBlur1)" opacity="0.95"/>
    <path d="M1222.8 1097.3 C1226.1 1099.5 1230.8 1098.4 1234.8 1098.2 C1238.8 1098.1 1243.3 1098.4 1246.8 1096.3 C1249.5 1094.8 1250.2 1091.2 1251.6 1088.4 C1254.2 1083.1 1254.7 1076.5 1258.8 1072.3 C1263.9 1067.1 1270.8 1063.2 1278.0 1061.8 C1284.3 1060.5 1291.4 1061.7 1297.2 1064.6 C1302.4 1067.3 1305.8 1072.8 1309.2 1077.6 C1311.6 1081.1 1311.9 1085.8 1314.5 1089.1 C1315.9 1091.0 1318.3 1092.5 1320.7 1092.7 C1326.5 1093.3 1332.3 1092.7 1338.0 1091.5 C1340.5 1091.0 1343.0 1089.6 1344.7 1087.7 C1347.2 1084.8 1347.6 1080.6 1350.0 1077.6 C1354.3 1072.2 1358.6 1066.4 1364.4 1062.7 C1370.9 1058.6 1378.4 1055.4 1386.0 1054.6 C1394.0 1053.6 1402.5 1054.4 1410.0 1057.4 C1418.2 1060.7 1425.9 1066.0 1431.6 1072.8 C1437.3 1079.6 1440.9 1088.2 1443.1 1096.8 C1445.1 1104.5 1445.6 1112.9 1444.1 1120.8 C1442.7 1128.0 1438.6 1134.4 1434.5 1140.5 C1431.3 1145.2 1425.7 1147.9 1422.5 1152.5 C1420.6 1155.1 1419.2 1158.4 1419.6 1161.6 C1420.1 1165.4 1422.4 1168.8 1424.9 1171.7 C1429.0 1176.3 1435.6 1178.6 1439.3 1183.7 C1444.0 1190.1 1447.6 1197.5 1449.4 1205.3 C1451.1 1212.9 1451.1 1221.2 1449.4 1228.8 C1447.5 1236.6 1443.9 1244.2 1438.8 1250.4 C1433.7 1256.6 1426.9 1261.6 1419.6 1264.8 C1412.1 1268.0 1403.7 1269.5 1395.6 1269.1 C1388.1 1268.8 1380.7 1266.3 1374.0 1262.9 C1368.4 1260.1 1364.0 1255.3 1359.6 1250.9 C1356.1 1247.4 1354.0 1242.7 1350.5 1239.4 C1349.1 1238.0 1347.1 1237.2 1345.2 1237.2 C1327.6 1237.3 1310.0 1238.7 1292.4 1239.6 C1274.4 1240.5 1256.3 1241.0 1238.4 1242.7 C1235.6 1243.0 1232.7 1243.8 1230.5 1245.6 C1228.1 1247.5 1227.0 1250.7 1225.2 1253.3 C1222.0 1257.9 1219.7 1263.3 1215.6 1267.2 C1210.7 1271.7 1205.1 1275.8 1198.8 1278.0 C1192.0 1280.4 1184.4 1281.6 1177.2 1280.6 C1169.6 1279.7 1162.1 1276.7 1155.6 1272.5 C1149.0 1268.2 1143.0 1262.4 1138.8 1255.7 C1134.2 1248.3 1131.0 1239.8 1129.7 1231.2 C1128.5 1223.4 1129.4 1215.2 1131.6 1207.7 C1133.4 1201.5 1137.5 1196.1 1141.2 1190.9 C1144.3 1186.5 1148.8 1183.2 1152.0 1178.9 C1153.1 1177.4 1154.3 1175.5 1154.2 1173.6 C1153.9 1171.0 1152.6 1168.3 1150.8 1166.4 C1146.6 1161.8 1140.2 1159.4 1136.4 1154.4 C1131.5 1148.0 1127.7 1140.5 1125.4 1132.8 C1123.3 1125.9 1122.4 1118.4 1123.4 1111.2 C1124.5 1103.6 1127.4 1096.0 1131.6 1089.6 C1135.9 1083.1 1141.7 1077.2 1148.4 1073.3 C1154.9 1069.5 1162.5 1067.7 1170.0 1067.0 C1177.2 1066.4 1184.8 1066.9 1191.6 1069.4 C1198.8 1072.2 1205.0 1077.3 1210.8 1082.4 C1215.6 1086.6 1217.5 1093.8 1222.8 1097.3 Z" fill="none" stroke="#fff" stroke-width="0.9"/>
    <circle cx="1281.6" cy="1093.9" r="13.6" fill="#1b1b1b" stroke="#e8e8e8" stroke-width="1.3"/>
  </g>
<!--PH34E-->
</svg>

</body>
</html>
